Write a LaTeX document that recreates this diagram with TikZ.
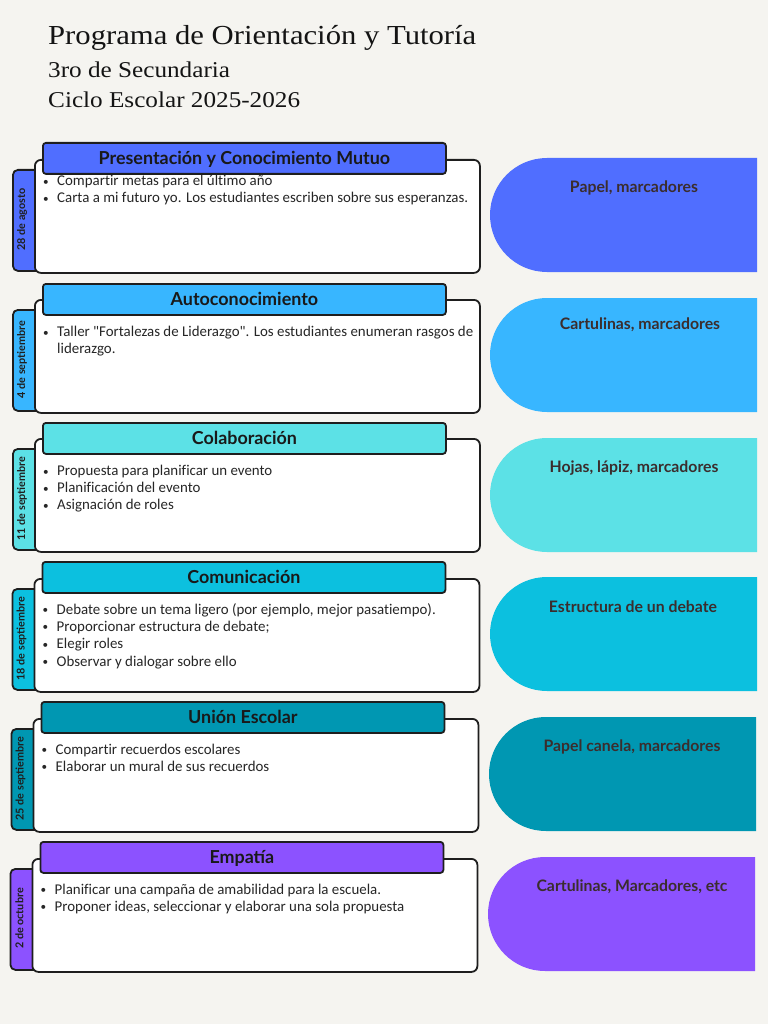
\documentclass[tikz,border=0pt]{standalone}
\usepackage{fontspec}
\setmainfont{Carlito}[Ligatures={TeXOff,CommonOff}]
\newfontfamily\lato{Lato}
\newfontfamily\titlefont[FakeStretch=1.115]{Liberation Serif}
\definecolor{bg}{HTML}{F5F4F0}
\definecolor{edge}{HTML}{1E1E1E}
\definecolor{txt}{HTML}{262626}
\definecolor{restxt}{HTML}{3B2D2D}
\definecolor{cA}{HTML}{506EFF}
\definecolor{cB}{HTML}{38B6FF}
\definecolor{cC}{HTML}{5CE1E6}
\definecolor{cD}{HTML}{0CC0DF}
\definecolor{cE}{HTML}{0097B2}
\definecolor{cF}{HTML}{8C52FF}
\tikzset{
  hdrbox/.style={draw=edge, line width=1.8pt, rounded corners=3pt, anchor=north west,
    minimum width=403pt, minimum height=31pt, inner sep=0pt,
    font=\lato\bfseries\fontsize{17.9}{21}\selectfont, text=black!90,
    text height=13pt, text depth=0pt},
  bodybox/.style={draw=edge, line width=1.8pt, rounded corners=6pt, fill=white, anchor=north west,
    minimum width=445pt, minimum height=113pt, inner sep=0pt},
  tabbox/.style={draw=edge, line width=1.8pt, rounded corners=5pt, anchor=north west,
    minimum width=30pt, minimum height=101pt, inner sep=0pt},
  datetxt/.style={rotate=90, inner sep=0pt, font=\lato\bfseries\fontsize{10.8}{12}\selectfont, text=black!88},
  itemtxt/.style={anchor=base west, inner sep=0pt, font=\fontsize{14.9}{17}\selectfont, text=txt},
  restext/.style={anchor=base, inner sep=0pt, font=\lato\bfseries\fontsize{15.8}{18}\selectfont, text=restxt},
  titletxt/.style={anchor=base west, inner sep=0pt, text=black!92},
}
\newcommand\bul{\makebox[14pt][l]{\raisebox{0.5pt}{\scalebox{0.75}{\textbullet}}}}
% #1 id, #2 colour, #3 dx, #4 header top, #5 body top, #6 header, #7 date
\newcommand\blockbase[7]{%
  \node[tabbox, fill=#2] (t#1) at ({12+#3},{#5+10}) {};
  \node[bodybox] (b#1) at ({34+#3},#5) {};
  \node[hdrbox, fill=#2] (h#1) at ({42+#3},#4) {#6};
  \node[datetxt] (d#1) at ({22+#3},{#5+60.5}) {#7};
}
% #1 id, #2 colour, #3 dx, #4 top, #5 text, #6 text x, #7 baseline
\newcommand\resource[7]{%
  \fill[#2] ({757+#3},#4) -- ({547+#3},#4) arc[start angle=-90, end angle=-270, radius=57]
     -- ({757+#3},{#4+114}) -- cycle;
  \node[restext] (r#1) at ({#6+#3},#7) {#5};
}
\begin{document}
\begin{tikzpicture}[x=1pt,y=-1pt]
\fill[bg] (0,0) rectangle (768,1024);
\useasboundingbox (0,0) rectangle (768,1024);

\node[titletxt, font=\titlefont\fontsize{27.5}{30}\selectfont] (title) at (48,45) {Programa de Orientación y Tutoría};
\node[titletxt, font=\titlefont\fontsize{22.6}{26}\selectfont] (sub1) at (48,78) {3ro de Secundaria};
\node[titletxt, font=\titlefont\fontsize{22.6}{26}\selectfont] (sub2) at (48,108) {Ciclo Escolar 2025-2026};

% block 1
\blockbase{1}{cA}{0}{142}{159}{Presentación y Conocimiento Mutuo}{28 de agosto}
\node[itemtxt] (i1a) at (43,186) {\bul Compartir metas para el último año};
\node[itemtxt] (i1b) at (43,203) {\bul Carta a mi futuro yo. Los estudiantes escriben sobre sus esperanzas.};
\resource{1}{cA}{0}{158}{Papel, marcadores}{634}{193}

% block 2
\blockbase{2}{cB}{0}{283}{299}{Autoconocimiento}{4 de septiembre}
\node[itemtxt] (i2a) at (43,336.5) {\bul Taller "Fortalezas de Liderazgo". Los estudiantes enumeran rasgos de};
\node[itemtxt] (i2b) at (57,353.5) {liderazgo.};
\resource{2}{cB}{0}{298}{Cartulinas, marcadores}{640}{329}

% block 3
\blockbase{3}{cC}{0}{422}{438}{Colaboración}{11 de septiembre}
\node[itemtxt] (i3a) at (43,475.5) {\bul Propuesta para planificar un evento};
\node[itemtxt] (i3b) at (43,492.5) {\bul Planificación del evento};
\node[itemtxt] (i3c) at (43,509.5) {\bul Asignación de roles};
\resource{3}{cC}{0}{438}{Hojas, lápiz, marcadores}{634}{472}

% block 4
\blockbase{4}{cD}{-0.5}{561}{578}{Comunicación}{18 de septiembre}
\node[itemtxt] (i4a) at (42.5,614) {\bul Debate sobre un tema ligero (por ejemplo, mejor pasatiempo).};
\node[itemtxt] (i4b) at (42.5,631.3) {\bul Proporcionar estructura de debate;};
\node[itemtxt] (i4c) at (42.5,648.6) {\bul Elegir roles};
\node[itemtxt] (i4d) at (42.5,666) {\bul Observar y dialogar sobre ello};
\resource{4}{cD}{0}{577}{Estructura de un debate}{633}{612}

% block 5
\blockbase{5}{cE}{-1.5}{701}{718}{Unión Escolar}{25 de septiembre}
\node[itemtxt] (i5a) at (41.5,754) {\bul Compartir recuerdos escolares};
\node[itemtxt] (i5b) at (41.5,771) {\bul Elaborar un mural de sus recuerdos};
\resource{5}{cE}{-1}{717}{Papel canela, marcadores}{633}{751}

% block 6
\blockbase{6}{cF}{-2.5}{841}{858}{Empatía}{2 de octubre}
\node[itemtxt] (i6a) at (40.5,894) {\bul Planificar una campaña de amabilidad para la escuela.};
\node[itemtxt] (i6b) at (40.5,911) {\bul Proponer ideas, seleccionar y elaborar una sola propuesta};
\resource{6}{cF}{-2}{857}{Cartulinas, Marcadores, etc}{634}{891}
\end{tikzpicture}
\end{document}
